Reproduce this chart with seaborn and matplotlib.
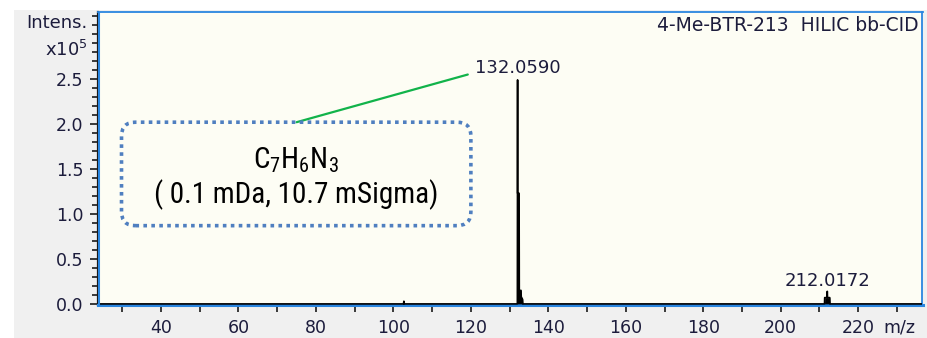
import numpy as np
import pandas as pd
import matplotlib.pyplot as plt
import seaborn as sns
from matplotlib.patches import FancyBboxPatch, Rectangle
from matplotlib.ticker import MultipleLocator
from matplotlib import font_manager

# spectrum profile (m/z, intensity in units of 1e5)
mz = [23.0, 102.6, 102.7, 102.8, 132.00, 132.059, 132.07, 132.45, 132.50, 132.95,
      133.00, 133.35, 133.40, 211.30, 211.35, 211.95, 212.0172, 212.08, 212.65, 212.70, 237.0]
intens = [0.0, 0.0, 0.03, 0.0, 0.0, 2.49, 1.23, 1.23, 0.15, 0.15,
          0.08, 0.05, 0.0, 0.0, 0.07, 0.07, 0.14, 0.07, 0.07, 0.0, 0.0]

peak_mz = [132.0590, 212.0172]
peak_labels = ["132.0590", "212.0172"]
peak_label_y = [2.62, 0.26]

x_ticks = [40, 60, 80, 100, 120, 140, 160, 180, 200, 220]
y_ticks = [0.0, 0.5, 1.0, 1.5, 2.0, 2.5]

title = "4-Me-BTR-213  HILIC bb-CID"
formula = r"C$_\mathregular{7}$H$_\mathregular{6}$N$_\mathregular{3}$"
formula_note = "( 0.1 mDa, 10.7 mSigma)"

sns.set_style("ticks")
plt.rcParams['font.family'] = ['DejaVu Sans']
txt_col = '#1c1c3c'
blue = '#2a86e0'

# condensed face for the annotation box
names = {f.name for f in font_manager.fontManager.ttflist}
box_font = 'DejaVu Sans'
for cand in ['Roboto Condensed', 'Liberation Sans Narrow']:
    if cand in names:
        box_font = cand
        break

fig = plt.figure(figsize=(9.28, 3.38), dpi=100)
fig.patch.set_facecolor('white')
fig.patches.append(Rectangle((14 / 928, 0), 1, 1 - 10 / 338, transform=fig.transFigure,
                             facecolor='#f0f0f0', edgecolor='none', zorder=-10))
ax = fig.add_axes([97.5 / 928, 1 - 305 / 338, (922.5 - 97.5) / 928, (305 - 12) / 338])
ax.set_facecolor('#fdfdf4')

df = pd.DataFrame({'mz': mz, 'intens': intens})
sns.lineplot(data=df, x='mz', y='intens', sort=False, estimator=None,
             color='black', lw=1.2, ax=ax, zorder=3)
ax.fill_between(df['mz'], df['intens'], color='black', lw=0, zorder=3)

ax.set_xlim(23.6, 236.6)
ax.set_ylim(-0.012, 3.245)
ax.set_xticks(x_ticks)
ax.set_yticks(y_ticks)
ax.set_yticklabels([f"{v:.1f}" for v in y_ticks])
ax.xaxis.set_minor_locator(MultipleLocator(10))
ax.yaxis.set_minor_locator(MultipleLocator(0.1))
ax.tick_params(axis='both', which='both', direction='out', color='#1a1a1a',
               labelsize=12.5, labelcolor=txt_col, width=1.2)
ax.tick_params(axis='x', which='both', length=5, pad=5)
ax.tick_params(axis='y', which='major', length=6, pad=4)
ax.tick_params(axis='y', which='minor', length=4)
ax.set_xlabel('')
ax.set_ylabel('')

for side in ['top', 'right']:
    ax.spines[side].set_visible(True)
    ax.spines[side].set_color(blue)
    ax.spines[side].set_linewidth(1.3)
ax.spines['bottom'].set_color(blue)
ax.spines['bottom'].set_linewidth(2.2)
ax.spines['left'].set_color('#1a1a1a')
ax.spines['left'].set_linewidth(1.6)
ax.axvline(23.6, color=blue, lw=2.2, zorder=4)

ax.text(0.995, 0.985, title, transform=ax.transAxes, ha='right', va='top',
        fontsize=13.5, color=txt_col)

for x, lab, ly in zip(peak_mz, peak_labels, peak_label_y):
    ax.text(x, ly, lab, ha='center', va='center', fontsize=13, color=txt_col)

ax.annotate('m/z', xy=(0.9725, 0), xycoords='axes fraction', xytext=(0, -22),
            textcoords='offset pixels', ha='center', va='center', fontsize=12.5, color=txt_col)

fig.text(88 / 928, 1 - 23 / 338, 'Intens.', ha='right', va='center', fontsize=13, color=txt_col)
fig.text(88 / 928, 1 - 50 / 338, 'x10$^5$', ha='right', va='center', fontsize=13, color=txt_col)

# annotation box and leader line
ax.plot([75.0, 119.2], [2.02, 2.55], color='#11b34a', lw=1.6, zorder=5)
box = FancyBboxPatch((29.8, 0.87), 90.2, 1.15,
                     boxstyle='round,pad=0,rounding_size=3.6', mutation_aspect=0.043,
                     facecolor='none', edgecolor='#4f7fc0', lw=2.6,
                     linestyle=(0, (1, 1.2)), zorder=5)
ax.add_patch(box)
ax.text(74.9, 1.60, formula, ha='center', va='center', fontsize=21,
        family=box_font, color='black')
ax.text(74.9, 1.22, formula_note, ha='center', va='center', fontsize=21,
        family=box_font, color='black')

plt.savefig('out.png', dpi=100)
